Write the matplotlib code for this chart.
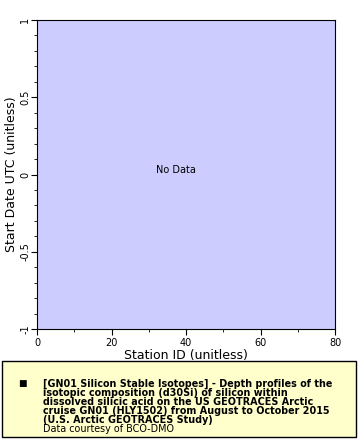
import matplotlib
matplotlib.use('Agg')
import matplotlib.pyplot as plt
from matplotlib.patches import Rectangle
from matplotlib.ticker import MultipleLocator

# axis ranges and ticks
x_ticks = [0, 20, 40, 60, 80]
y_ticks = [-1, -0.5, 0, 0.5, 1]
y_tick_labels = ['-1', '-0.5', '0', '0.5', '1']
x_label = 'Station ID (unitless)'
y_label = 'Start Date UTC (unitless)'
legend_lines = ['[GN01 Silicon Stable Isotopes] - Depth profiles of the',
                'isotopic composition (d30Si) of silicon within',
                'dissolved silicic acid on the US GEOTRACES Arctic',
                'cruise GN01 (HLY1502) from August to October 2015',
                '(U.S. Arctic GEOTRACES Study)']
credit = 'Data courtesy of BCO-DMO'

W, H = 360, 440
fig = plt.figure(figsize=(W / 100, H / 100), dpi=100)
ax = fig.add_axes([37 / W, 1 - 329 / H, 298 / W, 309 / H])
ax.set_facecolor('#ccccff')
ax.set_xlim(x_ticks[0], x_ticks[-1])
ax.set_ylim(y_ticks[0], y_ticks[-1])
ax.set_xticks(x_ticks)
ax.set_yticks(y_ticks)
ax.set_yticklabels(y_tick_labels, rotation=90, va='center')
ax.xaxis.set_minor_locator(MultipleLocator(10))
ax.yaxis.set_minor_locator(MultipleLocator(0.1))
ax.tick_params(which='both', direction='out', labelsize=7)
ax.tick_params(which='major', length=4.3)
ax.tick_params(which='minor', length=2.2)
ax.tick_params(axis='x', pad=2)
ax.tick_params(axis='y', pad=0.5)
ax.set_xlabel(x_label, fontsize=9, labelpad=1)
ax.set_ylabel(y_label, fontsize=9, labelpad=2)
ax.text(0.466, 0.515, 'No Data', transform=ax.transAxes, ha='center',
        va='center', fontsize=7)

# legend box
fig.patches.append(Rectangle((2 / W, 1 - 437 / H), 354 / W, 76 / H,
                             transform=fig.transFigure, facecolor='#ffffcc',
                             edgecolor='black', lw=1))
fig.text(22.5 / W, 1 - 383.5 / H, '\u25a0', fontsize=6.5, ha='center',
         va='center')
for i, line in enumerate(legend_lines):
    fig.text(43 / W, 1 - (387 + 9 * i) / H, line, fontsize=6.9,
             fontweight='bold', ha='left', va='baseline')
fig.text(43 / W, 1 - 432 / H, credit, fontsize=6.9, ha='left',
         va='baseline')

fig.savefig('out.png', dpi=100)
